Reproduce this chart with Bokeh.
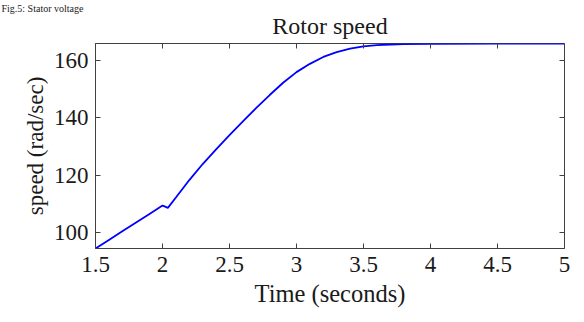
from bokeh.plotting import figure
from bokeh.models import Range1d, FixedTicker, LinearAxis, Title, CustomJSTickFormatter
from bokeh.embed import file_html
from bokeh.resources import INLINE

# ---- data ----
time_s = [1.5, 1.6, 1.7, 1.8, 1.9, 2.0, 2.02, 2.04, 2.1, 2.2, 2.3, 2.4, 2.5,
          2.6, 2.7, 2.8, 2.9, 3.0, 3.1, 3.2, 3.3, 3.4, 3.5, 3.6, 3.7, 3.8,
          4.0, 4.5, 5.0]
speed = [94.4, 97.4, 100.4, 103.4, 106.4, 109.4, 109.0, 108.6, 112.2, 118.3,
         123.9, 129.0, 134.0, 138.8, 143.5, 148.0, 152.3, 156.0, 158.9, 161.3,
         163.0, 164.2, 165.0, 165.4, 165.65, 165.8, 165.9, 165.95, 166.0]
x_ticks = [1.5, 2, 2.5, 3, 3.5, 4, 4.5, 5]
x_tick_labels = ["1.5", "2", "2.5", "3", "3.5", "4", "4.5", "5"]
y_ticks = [100, 120, 140, 160]
y_tick_labels = ["100", "120", "140", "160"]
title_text = "Rotor speed"
x_label = "Time (seconds)"
y_label = "speed (rad/sec)"
caption_text = "Fig.5: Stator voltage"

FONT = "Liberation Serif"
AX = "#404040"
TXT = "#1a1a1a"

p = figure(width=584, height=322, output_backend="svg", toolbar_location=None,
           x_range=Range1d(1.5, 5.0), y_range=Range1d(94.4, 166.0),
           min_border_left=95, min_border_right=20, min_border_top=43,
           min_border_bottom=74, title=None)

p.background_fill_color = "white"
p.border_fill_color = "white"
p.outline_line_color = AX
p.outline_line_width = 1
p.grid.visible = False

p.line(time_s, speed, line_color="#0000ff", line_width=1.8)

xa = p.xaxis[0]
xa.ticker = FixedTicker(ticks=x_ticks)
xa.major_label_overrides = {t: l for t, l in zip(x_ticks, x_tick_labels)}
ya = p.yaxis[0]
ya.ticker = FixedTicker(ticks=y_ticks)
ya.major_label_overrides = {t: l for t, l in zip(y_ticks, y_tick_labels)}

for ax in (xa, ya):
    ax.axis_line_color = AX
    ax.major_tick_line_color = AX
    ax.major_tick_in = 5
    ax.major_tick_out = 0
    ax.minor_tick_line_color = None
    ax.major_label_text_font = FONT
    ax.major_label_text_font_size = "23px"
    ax.major_label_text_color = TXT
    ax.axis_label_text_font = FONT
    ax.axis_label_text_font_style = "normal"
    ax.axis_label_text_color = TXT

xa.axis_label = x_label
ya.axis_label = y_label
xa.axis_label_text_font_size = "24.5px"
ya.axis_label_text_font_size = "23px"
xa.major_label_standoff = 8
ya.major_label_standoff = 7
xa.axis_label_standoff = 5
ya.axis_label_standoff = 3

# mirrored ticks on top and right (MATLAB box style), no labels
blank = CustomJSTickFormatter(code="return ''")
top = LinearAxis(ticker=FixedTicker(ticks=x_ticks), formatter=blank)
right = LinearAxis(ticker=FixedTicker(ticks=y_ticks), formatter=blank)
for ax in (top, right):
    ax.axis_line_color = None
    ax.major_tick_line_color = AX
    ax.major_tick_in = 5
    ax.major_tick_out = 0
    ax.minor_tick_line_color = None
    ax.major_label_standoff = 0
p.add_layout(top, "above")
p.add_layout(right, "right")

main_title = Title(text=title_text, align="center", text_font=FONT,
                   text_font_size="24px", text_font_style="normal",
                   text_color=TXT, standoff=3.5, vertical_align="top")
p.add_layout(main_title, "above")

caption = Title(text=caption_text, align="left", text_font=FONT,
                text_font_size="10px", text_font_style="normal",
                text_color=TXT, standoff=-4, offset=-94)
p.add_layout(caption, "above")

open("out.html", "w").write(file_html(p, INLINE))
